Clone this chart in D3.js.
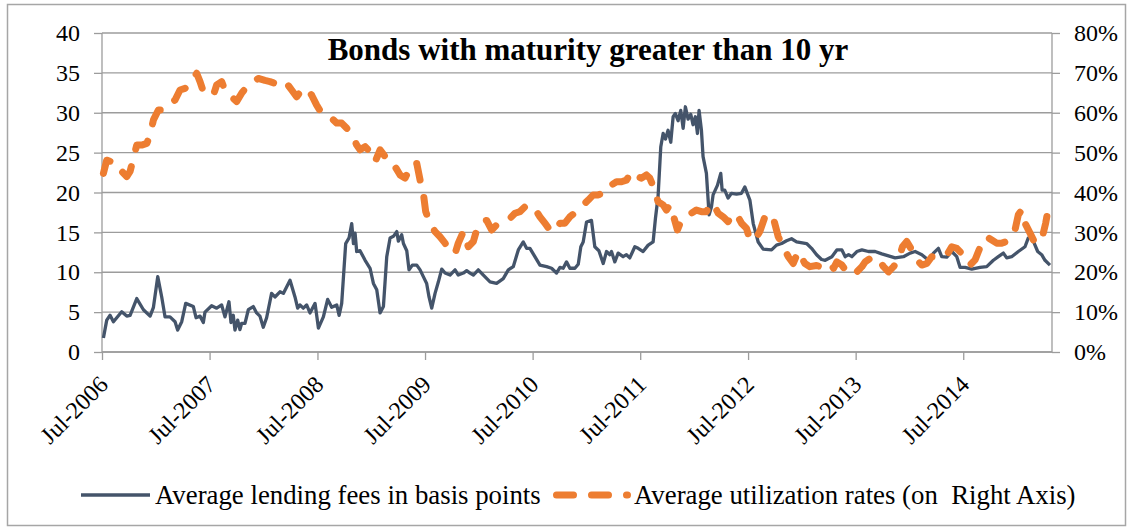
<!doctype html>
<html lang="en">
<head>
<meta charset="utf-8">
<style>
  body { margin: 0; background: #fff; }
  svg text { font-family: "Liberation Serif", "Times New Roman", serif; fill: #000; white-space: pre; }
</style>
</head>
<body>
<div class="chart"></div>

<script src="https://d3js.org/d3.v7.min.js"></script>
<script>

    // decimal year -> value
    const lendingFees = [
        [2006.509, 1.75], [2006.54, 4.0], [2006.571, 4.6], [2006.602, 3.8], [2006.679, 5.05], [2006.726, 4.5],
        [2006.757, 4.6], [2006.819, 6.7], [2006.881, 5.3], [2006.943, 4.5], [2006.974, 5.6], [2007.014, 9.45],
        [2007.051, 6.9], [2007.082, 4.4], [2007.128, 4.4], [2007.175, 3.8], [2007.199, 2.75], [2007.237, 3.8],
        [2007.274, 6.1], [2007.345, 5.7], [2007.37, 4.3], [2007.407, 4.5], [2007.438, 3.7], [2007.453, 5.0],
        [2007.515, 5.8], [2007.562, 5.5], [2007.608, 5.9], [2007.639, 4.4], [2007.676, 6.3], [2007.695, 3.7],
        [2007.716, 4.6], [2007.732, 2.75], [2007.757, 4.0], [2007.778, 2.8], [2007.794, 3.6], [2007.825, 3.6],
        [2007.856, 5.3], [2007.902, 5.7], [2007.933, 4.9], [2007.964, 4.5], [2007.995, 3.1], [2008.026, 4.3],
        [2008.072, 7.35], [2008.103, 6.9], [2008.15, 7.55], [2008.181, 7.35], [2008.243, 9.0], [2008.289, 6.9],
        [2008.314, 5.5], [2008.335, 5.9], [2008.366, 5.5], [2008.397, 5.9], [2008.428, 4.9], [2008.475, 6.1],
        [2008.506, 3.0], [2008.552, 4.4], [2008.592, 6.6], [2008.629, 5.6], [2008.676, 5.9], [2008.698, 4.6],
        [2008.722, 6.1], [2008.759, 13.6], [2008.79, 14.3], [2008.815, 16.1], [2008.831, 13.6], [2008.846, 14.9],
        [2008.861, 12.6], [2008.892, 12.7], [2008.939, 11.5], [2008.985, 10.5], [2009.016, 8.6], [2009.047, 7.8],
        [2009.078, 4.9], [2009.109, 5.7], [2009.14, 11.95], [2009.171, 14.3], [2009.202, 14.5], [2009.233, 15.1],
        [2009.248, 13.9], [2009.279, 14.7], [2009.295, 13.6], [2009.326, 12.7], [2009.347, 10.3], [2009.378, 10.9],
        [2009.419, 10.9], [2009.45, 10.3], [2009.48, 9.45], [2009.511, 8.6], [2009.533, 6.9], [2009.558, 5.5],
        [2009.589, 7.35], [2009.62, 8.8], [2009.651, 10.4], [2009.682, 9.9], [2009.728, 9.65], [2009.775, 10.3],
        [2009.805, 9.65], [2009.852, 9.9], [2009.883, 10.2], [2009.914, 9.9], [2009.945, 9.65], [2009.991, 10.3],
        [2010.038, 9.65], [2010.1, 8.8], [2010.161, 8.6], [2010.223, 9.2], [2010.27, 10.3], [2010.316, 10.7],
        [2010.363, 12.8], [2010.409, 13.8], [2010.44, 13.0], [2010.471, 13.0], [2010.517, 11.95], [2010.564, 10.9],
        [2010.626, 10.7], [2010.672, 10.5], [2010.718, 9.9], [2010.75, 10.6], [2010.78, 10.5], [2010.811, 11.3],
        [2010.842, 10.5], [2010.889, 10.5], [2010.92, 11.0], [2010.944, 13.2], [2010.966, 13.8], [2010.997, 16.3],
        [2011.043, 16.5], [2011.074, 13.2], [2011.112, 12.7], [2011.152, 11.1], [2011.183, 12.6], [2011.214, 12.2],
        [2011.229, 12.6], [2011.26, 11.3], [2011.291, 12.4], [2011.337, 11.95], [2011.368, 12.2], [2011.399, 11.8],
        [2011.446, 13.2], [2011.477, 13.0], [2011.523, 12.6], [2011.57, 13.4], [2011.616, 13.8], [2011.638, 16.8],
        [2011.662, 19.5], [2011.687, 25.7], [2011.709, 27.4], [2011.731, 26.7], [2011.755, 27.8], [2011.78, 26.3],
        [2011.802, 29.5], [2011.823, 29.9], [2011.848, 29.0], [2011.873, 30.3], [2011.895, 28.05], [2011.916, 30.75],
        [2011.941, 29.2], [2011.966, 29.8], [2011.987, 28.5], [2012.009, 29.5], [2012.028, 27.4], [2012.043, 30.3],
        [2012.065, 27.8], [2012.08, 24.5], [2012.111, 22.4], [2012.136, 17.2], [2012.158, 18.2], [2012.173, 19.7],
        [2012.213, 20.9], [2012.244, 22.4], [2012.257, 20.3], [2012.281, 20.3], [2012.312, 19.3], [2012.343, 19.9],
        [2012.39, 19.8], [2012.436, 19.9], [2012.467, 20.7], [2012.514, 19.05], [2012.545, 16.1], [2012.591, 13.8],
        [2012.637, 12.9], [2012.715, 12.8], [2012.761, 13.4], [2012.808, 13.6], [2012.854, 13.95], [2012.9, 14.2],
        [2012.947, 13.8], [2013.04, 13.6], [2013.086, 13.0], [2013.133, 12.2], [2013.179, 11.6], [2013.213, 11.5],
        [2013.275, 11.95], [2013.321, 12.8], [2013.368, 12.8], [2013.399, 11.95], [2013.43, 12.2], [2013.461, 11.95],
        [2013.507, 12.6], [2013.554, 12.8], [2013.615, 12.6], [2013.677, 12.6], [2013.739, 12.3], [2013.801, 12.05],
        [2013.863, 11.8], [2013.94, 11.95], [2014.002, 12.4], [2014.049, 12.6], [2014.111, 12.2], [2014.173, 11.5],
        [2014.219, 12.4], [2014.265, 13.0], [2014.296, 11.95], [2014.343, 11.9], [2014.389, 12.6], [2014.436, 11.95],
        [2014.467, 10.6], [2014.513, 10.6], [2014.575, 10.4], [2014.652, 10.6], [2014.714, 10.7], [2014.776, 11.5],
        [2014.822, 11.95], [2014.869, 12.4], [2014.9, 11.8], [2014.946, 11.95], [2015.008, 12.6], [2015.07, 13.2],
        [2015.101, 14.3], [2015.132, 14.45], [2015.163, 13.4], [2015.188, 12.6], [2015.225, 12.2], [2015.256, 11.5],
        [2015.302, 10.9]
    ];

    // decimal year -> utilization rate (%)
    const utilization = [
        [2006.509, 44.8], [2006.54, 48.1], [2006.587, 47.7], [2006.633, 45.6], [2006.679, 45.3], [2006.726, 44.0],
        [2006.757, 45.3], [2006.788, 48.6], [2006.819, 51.9], [2006.865, 51.9], [2006.912, 52.3], [2006.943, 54.4],
        [2006.974, 58.2], [2007.02, 60.7], [2007.066, 60.7], [2007.113, 61.9], [2007.175, 63.2], [2007.221, 65.7],
        [2007.268, 66.1], [2007.329, 67.8], [2007.376, 69.9], [2007.407, 67.8], [2007.438, 65.3], [2007.484, 64.9],
        [2007.531, 64.4], [2007.562, 67.0], [2007.608, 67.8], [2007.639, 65.7], [2007.67, 65.3], [2007.716, 63.6],
        [2007.747, 62.8], [2007.794, 64.9], [2007.84, 66.5], [2007.887, 67.4], [2007.948, 68.6], [2008.01, 68.1],
        [2008.057, 67.8], [2008.103, 67.4], [2008.165, 68.2], [2008.212, 67.4], [2008.258, 65.7], [2008.304, 64.0],
        [2008.351, 65.7], [2008.397, 66.1], [2008.444, 64.4], [2008.49, 61.9], [2008.536, 59.9], [2008.583, 59.5],
        [2008.629, 58.6], [2008.676, 57.4], [2008.722, 57.4], [2008.769, 56.1], [2008.815, 54.8], [2008.861, 51.9],
        [2008.892, 50.7], [2008.939, 51.5], [2008.985, 50.2], [2009.032, 47.7], [2009.078, 50.7], [2009.125, 49.0],
        [2009.171, 46.9], [2009.217, 46.5], [2009.264, 44.4], [2009.31, 43.6], [2009.347, 45.6], [2009.372, 47.3],
        [2009.419, 47.3], [2009.45, 43.1], [2009.48, 39.8], [2009.502, 35.2], [2009.542, 32.3], [2009.589, 30.2],
        [2009.635, 28.9], [2009.682, 27.3], [2009.728, 25.2], [2009.775, 24.7], [2009.805, 27.3], [2009.852, 30.2],
        [2009.898, 26.4], [2009.945, 27.7], [2009.976, 30.6], [2010.022, 32.7], [2010.069, 33.0], [2010.115, 30.6],
        [2010.177, 32.3], [2010.239, 33.0], [2010.285, 33.5], [2010.332, 34.8], [2010.378, 35.2], [2010.424, 36.4],
        [2010.471, 36.9], [2010.517, 35.9], [2010.564, 33.9], [2010.61, 32.3], [2010.657, 30.6], [2010.703, 30.2],
        [2010.75, 32.3], [2010.796, 32.3], [2010.842, 33.9], [2010.904, 35.2], [2010.951, 36.4], [2010.966, 36.9],
        [2011.013, 38.1], [2011.059, 39.4], [2011.105, 39.4], [2011.152, 39.8], [2011.183, 41.5], [2011.229, 41.9],
        [2011.276, 42.7], [2011.322, 42.7], [2011.368, 43.1], [2011.415, 45.2], [2011.461, 44.0], [2011.508, 43.6],
        [2011.554, 44.4], [2011.585, 43.6], [2011.625, 41.0], [2011.662, 37.7], [2011.709, 36.9], [2011.74, 35.6],
        [2011.771, 36.9], [2011.802, 34.4], [2011.842, 30.6], [2011.879, 33.1], [2011.926, 33.9], [2011.972, 34.8],
        [2012.018, 35.6], [2012.065, 35.2], [2012.111, 35.2], [2012.142, 36.9], [2012.173, 37.3], [2012.22, 34.8],
        [2012.266, 33.9], [2012.312, 32.7], [2012.359, 34.8], [2012.405, 33.9], [2012.436, 32.3], [2012.483, 31.0],
        [2012.514, 28.1], [2012.56, 28.1], [2012.606, 30.2], [2012.653, 33.9], [2012.699, 34.8], [2012.74, 32.7],
        [2012.777, 28.9], [2012.823, 26.4], [2012.87, 23.9], [2012.916, 22.2], [2012.962, 25.2], [2013.024, 22.2],
        [2013.071, 21.4], [2013.133, 21.7], [2013.167, 21.4], [2013.213, 22.2], [2013.26, 22.2], [2013.29, 21.0],
        [2013.321, 22.6], [2013.368, 21.8], [2013.414, 20.1], [2013.461, 19.3], [2013.507, 20.1], [2013.554, 21.4],
        [2013.584, 22.6], [2013.631, 23.5], [2013.677, 23.9], [2013.724, 22.6], [2013.755, 21.4], [2013.801, 20.1],
        [2013.848, 21.4], [2013.894, 23.1], [2013.931, 26.4], [2013.971, 27.7], [2014.018, 25.6], [2014.064, 23.1],
        [2014.111, 21.8], [2014.157, 22.2], [2014.203, 23.9], [2014.25, 23.9], [2014.296, 23.9], [2014.343, 24.3],
        [2014.389, 26.4], [2014.436, 26.0], [2014.482, 24.7], [2014.528, 22.6], [2014.559, 21.8], [2014.606, 23.1],
        [2014.637, 25.2], [2014.668, 27.3], [2014.714, 28.9], [2014.761, 28.1], [2014.807, 27.3], [2014.854, 27.3],
        [2014.9, 27.7], [2014.946, 28.9], [2014.977, 30.6], [2015.008, 34.4], [2015.039, 35.6], [2015.07, 32.3],
        [2015.117, 29.8], [2015.163, 27.3], [2015.209, 27.7], [2015.24, 29.8], [2015.262, 32.3], [2015.287, 36.0],
        [2015.311, 36.9]
    ];

    const tickYears = [2006, 2007, 2008, 2009, 2010, 2011, 2012, 2013, 2014];
    const leftTicks = [0, 5, 10, 15, 20, 25, 30, 35, 40];
    const rightTicks = [0, 0.1, 0.2, 0.3, 0.4, 0.5, 0.6, 0.7, 0.8];
    const seriesNames = ['Average lending fees in basis points', 'Average utilization rates (on  Right Axis)'];
    const chartTitle = 'Bonds with maturity greater than 10 yr';

    let width = 1129;
    let height = 529;
    let plot = {left: 102, right: 1052, top: 33, bottom: 352};
    let gridColor = '#9c9c9c';
    let blue = '#44546A';
    let orange = '#ED7D31';

    function yearToDate(t) {
        let y = Math.floor(t);
        let start = new Date(y, 0, 1), end = new Date(y + 1, 0, 1);
        return new Date(+start + (t - y) * (end - start));
    }

    let svg = d3.select('.chart').append('svg')
        .attr('width', width)
        .attr('height', height);

    // outer chart border
    svg.append('rect')
        .attr('x', 7.5).attr('y', 4.5)
        .attr('width', 1118).attr('height', 521)
        .attr('fill', 'none')
        .attr('stroke', '#a6a6a6')
        .attr('stroke-width', 1.5);

    let x = d3.scaleTime()
        .domain([new Date(2006, 6, 1), yearToDate(2015.321)])
        .range([plot.left, plot.right]);

    let yLeft = d3.scaleLinear().domain([0, 40]).range([plot.bottom, plot.top]);
    let yRight = d3.scaleLinear().domain([0, 0.8]).range([plot.bottom, plot.top]);

    // gridlines
    svg.append('g').attr('class', 'grid')
        .selectAll('line')
        .data(leftTicks)
        .join('line')
        .attr('x1', plot.left).attr('x2', plot.right)
        .attr('y1', d => yLeft(d)).attr('y2', d => yLeft(d))
        .attr('stroke', gridColor)
        .attr('stroke-width', 1.3);

    // left axis
    let leftAxis = svg.append('g')
        .attr('transform', `translate(${plot.left},0)`)
        .call(d3.axisLeft(yLeft).tickValues(leftTicks).tickSize(8).tickPadding(14));

    // right axis
    let rightAxis = svg.append('g')
        .attr('transform', `translate(${plot.right},0)`)
        .call(d3.axisRight(yRight).tickValues(rightTicks).tickSize(8).tickPadding(14).tickFormat(d3.format('.0%')));

    // bottom axis
    let bottomAxis = svg.append('g')
        .attr('transform', `translate(0,${plot.bottom})`)
        .call(d3.axisBottom(x)
            .tickValues(tickYears.map(y => new Date(y, 6, 1)))
            .tickSize(8)
            .tickFormat(d3.timeFormat('%b-%Y')));

    [leftAxis, rightAxis, bottomAxis].forEach(a => {
        a.attr('font-family', null).attr('font-size', null);
        a.selectAll('path, line').attr('stroke', gridColor).attr('stroke-width', 1.3);
        a.selectAll('text')
            .style('font-family', '"Liberation Serif", "Times New Roman", serif')
            .style('font-size', '24px');
    });

    // rotated date labels, ending just below-right of each tick
    bottomAxis.selectAll('text')
        .attr('x', 0)
        .attr('y', 0)
        .attr('text-anchor', 'end')
        .attr('dy', '0.35em')
        .attr('transform', 'translate(1,28) rotate(-45)');

    // plain domain lines without the end caps d3 adds
    leftAxis.select('.domain').attr('d', `M0,${plot.top}V${plot.bottom}`);
    rightAxis.select('.domain').attr('d', `M0,${plot.top}V${plot.bottom}`);
    bottomAxis.select('.domain').attr('d', `M${plot.left},0H${plot.right}`);

    // series
    let feeLine = d3.line()
        .x(d => x(yearToDate(d[0])))
        .y(d => yLeft(d[1]));

    let utilLine = d3.line()
        .x(d => x(yearToDate(d[0])))
        .y(d => yRight(d[1] / 100));

    svg.append('path')
        .datum(lendingFees)
        .attr('d', feeLine)
        .attr('fill', 'none')
        .attr('stroke', blue)
        .attr('stroke-width', 3.3)
        .attr('stroke-linejoin', 'round');

    svg.append('path')
        .datum(utilization)
        .attr('d', utilLine)
        .attr('fill', 'none')
        .attr('stroke', orange)
        .attr('stroke-width', 7)
        .attr('stroke-linecap', 'round')
        .attr('stroke-linejoin', 'round')
        .attr('stroke-dasharray', '17,18');

    // title
    svg.append('text')
        .attr('x', 588).attr('y', 60)
        .attr('text-anchor', 'middle')
        .style('font-size', '31px')
        .style('font-weight', 'bold')
        .text(chartTitle);

    // legend
    let legendY = 495;
    let legend = svg.append('g').attr('class', 'legend');

    legend.append('line')
        .attr('x1', 81).attr('x2', 150)
        .attr('y1', legendY).attr('y2', legendY)
        .attr('stroke', blue).attr('stroke-width', 3.3);

    legend.append('text')
        .attr('x', 155).attr('y', legendY)
        .attr('dy', '0.33em')
        .style('font-size', '26.8px')
        .text(seriesNames[0]);

    legend.append('line')
        .attr('x1', 556.5).attr('x2', 627.5)
        .attr('y1', legendY).attr('y2', legendY)
        .attr('stroke', orange).attr('stroke-width', 7)
        .attr('stroke-linecap', 'round')
        .attr('stroke-dasharray', '17,18');

    legend.append('text')
        .attr('x', 634).attr('y', legendY)
        .attr('dy', '0.33em')
        .style('font-size', '26.8px')
        .text(seriesNames[1]);

</script>
</body>
</html>
